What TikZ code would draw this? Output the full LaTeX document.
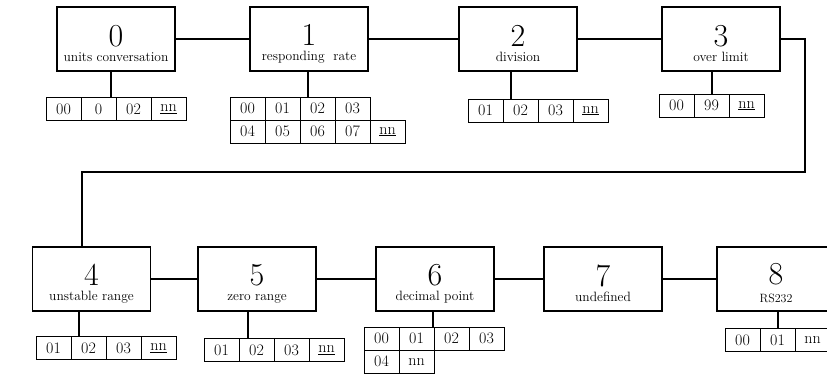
\documentclass[tikz,border=0pt]{standalone}
\usepackage{tikz}
\usetikzlibrary{positioning}
\tikzstyle{mode} = [rectangle, minimum width=118pt, minimum height=64pt, inner sep=0pt, align=center, draw=black, line width=1.1pt, font=\fontsize{13.5}{15}\selectfont]
\tikzstyle{cell} = [rectangle, minimum width=35pt, minimum height=23pt, inner sep=0pt, outer sep=0pt, draw=black, line width=1pt, font=\fontsize{16}{16}\selectfont]
\tikzstyle{wire} = [line width=1.1pt]

\begin{document}
\begin{tikzpicture}[x=1pt, y=-1pt]
			\clip (0,0) rectangle (827,376);
			\fill[white] (0,0) rectangle (827,376);
			% upper row
			\node (b0) [mode] at (116,39) {{\fontsize{32}{32}\selectfont\rule{0pt}{30pt}0}\\units conversation};
			\node (b1) [mode] at (309,39) {{\fontsize{32}{32}\selectfont\rule{0pt}{30pt}1}\\responding\ \ rate};
			\node (b2) [mode] at (518,39) {{\fontsize{32}{32}\selectfont\rule{0pt}{30pt}2}\\division};
			\node (b3) [mode] at (721,39) {{\fontsize{32}{32}\selectfont\rule{0pt}{30pt}3}\\over limit};
			% lower row
			\node (b4) [mode] at (91.5,279) {{\fontsize{32}{32}\selectfont\rule{0pt}{30pt}4}\\unstable range};
			\node (b5) [mode] at (257,279) {{\fontsize{32}{32}\selectfont\rule{0pt}{30pt}5}\\zero range};
			\node (b6) [mode] at (435,279) {{\fontsize{32}{32}\selectfont\rule{0pt}{30pt}6}\\decimal point};
			\node (b7) [mode] at (603,279) {{\fontsize{32}{32}\selectfont\rule{0pt}{30pt}7}\\undefined};
			\node (b8) [mode] at (776,279) {{\fontsize{32}{32}\selectfont\rule{0pt}{30pt}8}\\[3pt]{\fontsize{12}{12}\selectfont RS232}};

			% value tables
			\node (t0a) [cell] at (63.5,109) {00};
			\node (t0b) [cell, right=0pt of t0a] {0};
			\node (t0c) [cell, right=0pt of t0b] {02};
			\node (t0d) [cell, right=0pt of t0c] {\underline{nn}};

			\node (t1a) [cell] at (247.5,108.5) {00};
			\node (t1b) [cell, right=0pt of t1a] {01};
			\node (t1c) [cell, right=0pt of t1b] {02};
			\node (t1d) [cell, right=0pt of t1c] {03};
			\node (t1e) [cell, below=0pt of t1a] {04};
			\node (t1f) [cell, right=0pt of t1e] {05};
			\node (t1g) [cell, right=0pt of t1f] {06};
			\node (t1h) [cell, right=0pt of t1g] {07};
			\node (t1i) [cell, right=0pt of t1h] {\underline{nn}};

			\node (t2a) [cell] at (485.5,110.5) {01};
			\node (t2b) [cell, right=0pt of t2a] {02};
			\node (t2c) [cell, right=0pt of t2b] {03};
			\node (t2d) [cell, right=0pt of t2c] {\underline{nn}};

			\node (t3a) [cell] at (676.5,105.5) {00};
			\node (t3b) [cell, right=0pt of t3a] {99};
			\node (t3c) [cell, right=0pt of t3b] {\underline{nn}};

			\node (t4a) [cell] at (53.5,348) {01};
			\node (t4b) [cell, right=0pt of t4a] {02};
			\node (t4c) [cell, right=0pt of t4b] {03};
			\node (t4d) [cell, right=0pt of t4c] {\underline{nn}};

			\node (t5a) [cell] at (221.5,350) {01};
			\node (t5b) [cell, right=0pt of t5a] {02};
			\node (t5c) [cell, right=0pt of t5b] {03};
			\node (t5d) [cell, right=0pt of t5c] {\underline{nn}};

			\node (t6a) [cell] at (381.5,338.5) {00};
			\node (t6b) [cell, right=0pt of t6a] {01};
			\node (t6c) [cell, right=0pt of t6b] {02};
			\node (t6d) [cell, right=0pt of t6c] {03};
			\node (t6e) [cell, below=0pt of t6a] {04};
			\node (t6f) [cell, right=0pt of t6e] {nn};

			\node (t8a) [cell] at (742.5,340) {00};
			\node (t8b) [cell, right=0pt of t8a] {01};
			\node (t8c) [cell, right=0pt of t8b] {nn};

			% chain of modes
			\coordinate (turn) at (805,172);
			\draw [wire] (b0) -- (b1);
			\draw [wire] (b1) -- (b2);
			\draw [wire] (b2) -- (b3);
			\draw [wire] (b3.east) -| (turn) -| ([xshift=-9.5pt]b4.north);
			\draw [wire] (b4) -- (b5);
			\draw [wire] (b5) -- (b6);
			\draw [wire] (b6) -- (b7);
			\draw [wire] (b7) -- (b8);

			% modes to their tables
			\draw [wire] ([xshift=-5pt]b0.south) -- ([xshift=-5pt]b0.south |- t0a.north);
			\draw [wire] ([xshift=-1pt]b1.south) -- ([xshift=-1pt]b1.south |- t1a.north);
			\draw [wire] ([xshift=-7pt]b2.south) -- ([xshift=-7pt]b2.south |- t2a.north);
			\draw [wire] ([xshift=-9pt]b3.south) -- ([xshift=-9pt]b3.south |- t3a.north);
			\draw [wire] ([xshift=-12.5pt]b4.south) -- ([xshift=-12.5pt]b4.south |- t4a.north);
			\draw [wire] ([xshift=-9pt]b5.south) -- ([xshift=-9pt]b5.south |- t5a.north);
			\draw [wire] ([xshift=-2pt]b6.south) -- ([xshift=-2pt]b6.south |- t6a.north);
			\draw [wire] ([xshift=2pt]b8.south) -- ([xshift=2pt]b8.south |- t8a.north);
		\end{tikzpicture}
\end{document}
